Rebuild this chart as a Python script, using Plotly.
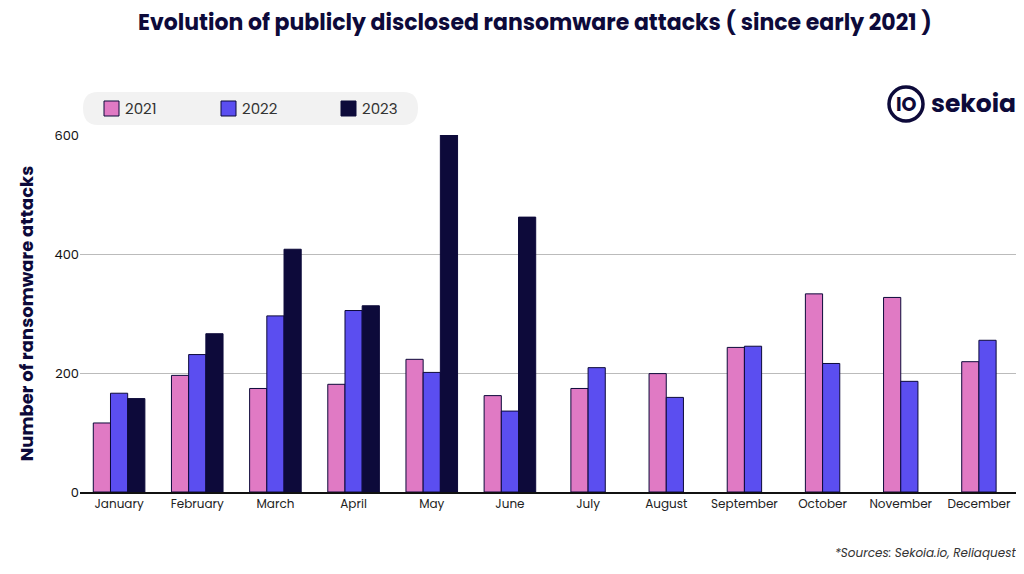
import plotly.graph_objects as go

months = ["January","February","March","April","May","June","July","August","September","October","November","December"]
v2021 = [116,196,174,181,223,162,174,199,243,333,327,219]
v2022 = [166,231,296,305,201,136,209,159,245,216,186,255]
v2023 = [157,266,408,313,600,462,None,None,None,None,None,None]
series = [("2021", v2021, "#e07ac4"), ("2022", v2022, "#5b4ef0"), ("2023", v2023, "#0d0a3a")]

W = 0.22
fig = go.Figure()
for si, (name, vals, col) in enumerate(series):
    offs = []
    for mi in range(len(months)):
        present = [k for k, s in enumerate(series) if s[1][mi] is not None]
        n = len(present)
        idx = present.index(si) if si in present else 0
        offs.append(-n * W / 2 + idx * W)
    fig.add_trace(go.Bar(x=months, y=vals, name=name, width=W, offset=offs, showlegend=False,
                         marker=dict(color=col, line=dict(color="#0d0a3a", width=1))))

DY = 8
FW, FH = 1016, 574 - DY
L, R, T, B = 72, 1010, 135 - DY, 492 - DY
def px(x): return (x - L) / (R - L)
def py(y): return (B - (y - DY)) / (B - T)

shapes = [dict(type="path", xref="paper", yref="paper", fillcolor="#f2f2f2", line=dict(width=0),
               path=f"M {px(90)},{py(92)} L {px(395)},{py(92)} Q {px(410)},{py(92)} {px(410)},{py(108)} "
                    f"Q {px(410)},{py(125)} {px(395)},{py(125)} L {px(90)},{py(125)} "
                    f"Q {px(75)},{py(125)} {px(75)},{py(108)} Q {px(75)},{py(92)} {px(90)},{py(92)} Z")]
annotations = []
for (name, vals, col), sx in zip(series, [96, 213, 333]):
    shapes.append(dict(type="rect", xref="paper", yref="paper", x0=px(sx), x1=px(sx + 15), y0=py(116), y1=py(101),
                       fillcolor=col, line=dict(color="#0d0a3a", width=1)))
    annotations.append(dict(text=name, x=px(sx + 19), y=py(108.5), xref="paper", yref="paper", xanchor="left",
                            yanchor="middle", showarrow=False, font=dict(size=15, color="#333")))
# logo
shapes.append(dict(type="circle", xref="paper", yref="paper", x0=px(881), x1=px(915), y0=py(121), y1=py(87),
                   line=dict(color="#0d0a3a", width=3.5)))
annotations.append(dict(text="<b>IO</b>", x=px(898), y=py(104), xref="paper", yref="paper", xanchor="center",
                        yanchor="middle", showarrow=False, font=dict(size=19, color="#0d0a3a")))
annotations.append(dict(text="<b>sekoia</b>", x=px(1010), y=py(103), xref="paper", yref="paper", xanchor="right",
                        yanchor="middle", showarrow=False, font=dict(size=25, color="#0d0a3a")))
annotations.append(dict(text="<i>*Sources: Sekoia.io, Reliaquest</i>", x=px(1010), y=py(552), xref="paper", yref="paper",
                        xanchor="right", yanchor="middle", showarrow=False, font=dict(size=12, color="#333")))
annotations.append(dict(text="<b>Evolution of publicly disclosed ransomware attacks ( since early 2021 )</b>",
                        x=px(527), y=py(22), xref="paper", yref="paper", xanchor="center", yanchor="middle",
                        showarrow=False, font=dict(size=22, color="#0d0a3a")))

fig.update_layout(
    width=FW, height=FH, barmode="overlay",
    plot_bgcolor="white", paper_bgcolor="white",
    font=dict(family="Poppins, Lato, sans-serif", color="#0d0a3a"),
    margin=dict(l=L, r=FW - R, t=T, b=FH - B, autoexpand=False),
    shapes=shapes, annotations=annotations,
    xaxis=dict(tickfont=dict(size=12, color="#222"), showline=True, linecolor="#111", linewidth=2, ticks=""),
    yaxis=dict(range=[0, 600], tickvals=[0, 200, 400, 600], tickfont=dict(size=13, color="#111"),
               showgrid=True, gridcolor="#bbbbbb", zeroline=False,
               title=dict(text="<b>Number of ransomware attacks</b>", font=dict(size=18, color="#0d0a3a"), standoff=16),
               tickprefix="<b>", ticksuffix="</b>"),
)
fig.write_html("out.html")
